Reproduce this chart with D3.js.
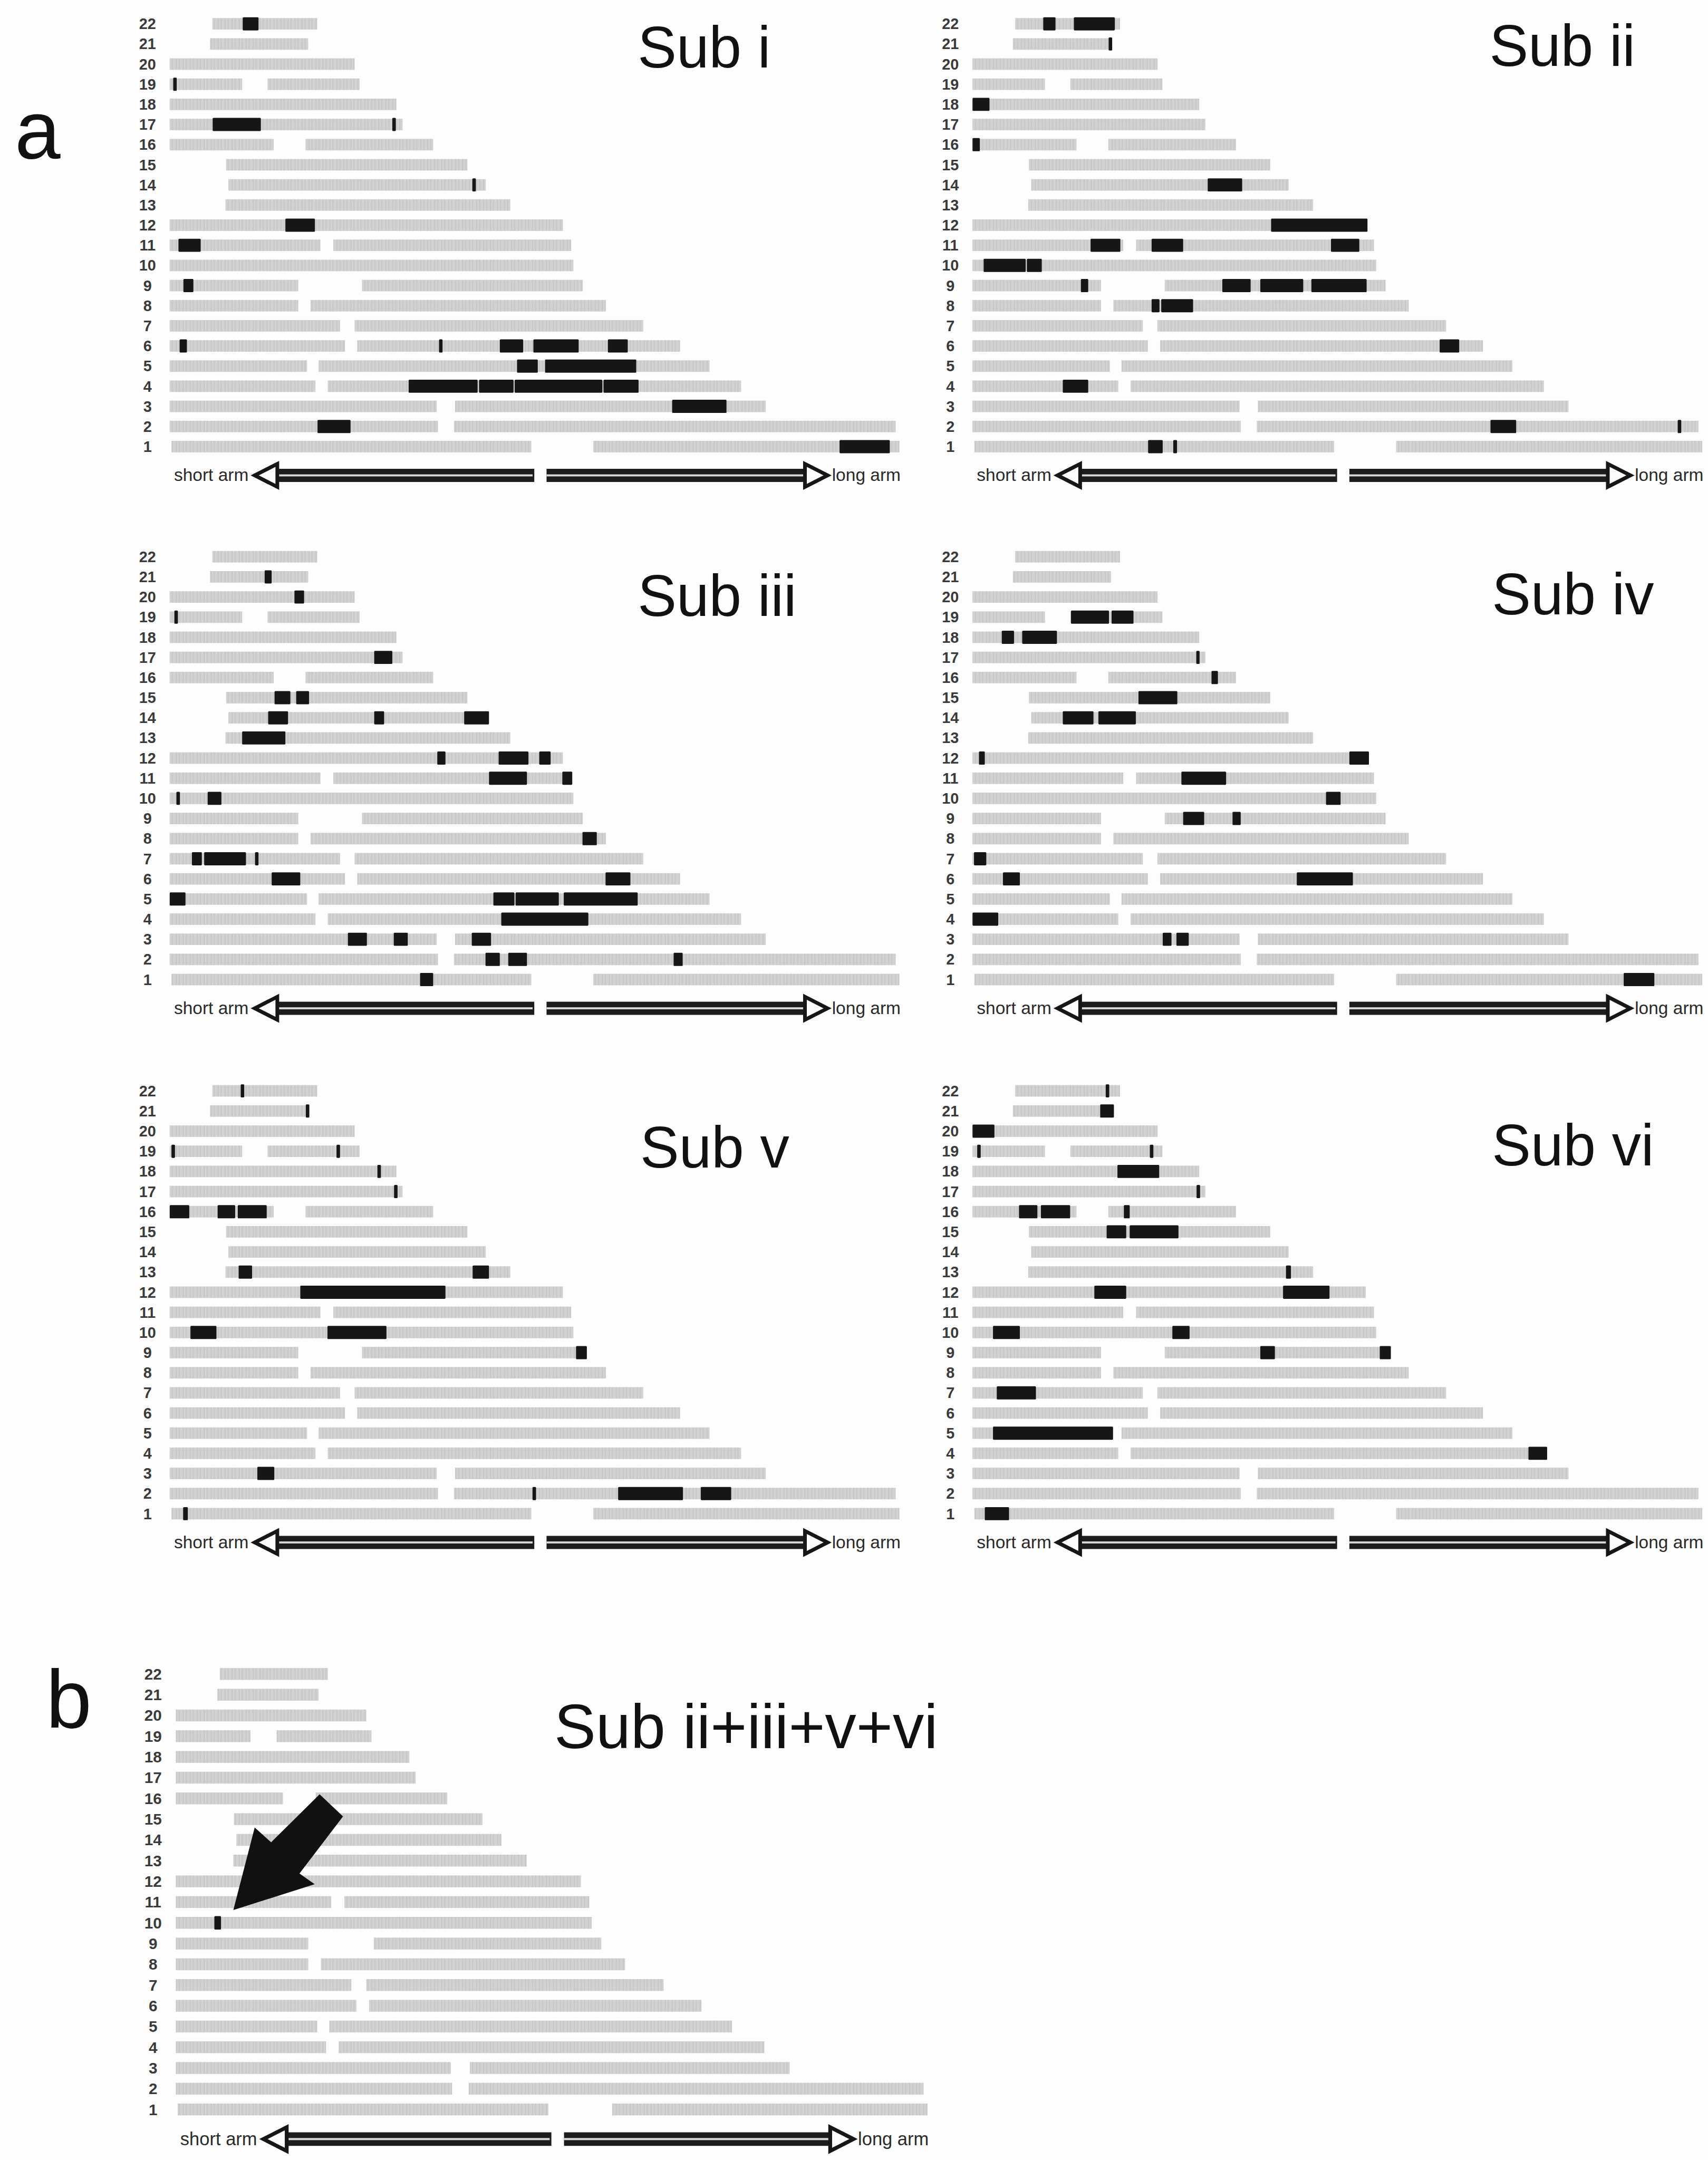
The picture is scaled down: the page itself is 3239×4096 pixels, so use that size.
<!DOCTYPE html>
<html>
<head>
<meta charset="utf-8">
<script src="https://cdn.jsdelivr.net/npm/d3@7"></script>
<style>
  html, body { margin: 0; padding: 0; background: #fff; }
  svg { display: block; }
  text { font-family: "Liberation Sans", Arial, Helvetica, sans-serif; }
</style>
</head>
<body>
<div id="chart"></div>
<script>
// chromosome names, 1 at bottom, 22 at top
const chromosomes = d3.range(1, 23).map(String);

// gray probe coverage per chromosome (Mb); gaps are centromeres / missing short arms
const coverage = {
  1: [[0.6, 123.8], [145, 249.8]],
  2: [[0, 91.8], [97.3, 248.5]],
  3: [[0, 91.4], [97.7, 204]],
  4: [[0, 49.9], [54.1, 195.6]],
  5: [[0, 47], [51, 184.8]],
  6: [[0, 60], [64.2, 174.7]],
  7: [[0, 58.3], [63.3, 162.1]],
  8: [[0, 44], [48.2, 149.3]],
  9: [[0, 44], [65.8, 141.4]],
  10: [[0, 138.2]],
  11: [[0, 51.6], [56, 137.4]],
  12: [[0, 134.6]],
  13: [[19.1, 116.6]],
  14: [[20.1, 108.2]],
  15: [[19.3, 101.9]],
  16: [[0, 35.6], [46.5, 90.2]],
  17: [[0, 79.7]],
  18: [[0, 77.6]],
  19: [[0, 24.8], [33.5, 65]],
  20: [[0, 63.3]],
  21: [[13.8, 47.4]],
  22: [[14.6, 50.5]]
};

// black segments: [chromosome, start Mb, end Mb]
const subI = [
  [22, 25.0, 30.4], [19, 1.2, 2.4], [17, 14.7, 31.2], [17, 76.2, 77.4], [14, 103.6, 104.8],
  [12, 39.6, 49.7], [11, 3.0, 10.6], [9, 4.7, 8.1],
  [6, 3.4, 5.9], [6, 92.2, 93.4], [6, 113, 121], [6, 124.5, 140], [6, 150, 156.8],
  [5, 118.9, 126], [5, 128.5, 159.7],
  [4, 81.8, 105.4], [4, 105.9, 117.7], [4, 118.1, 148.1], [4, 148.5, 160.5],
  [3, 172, 190.6], [2, 50.6, 61.9], [1, 229.3, 246.5]
];
const subII = [
  [22, 24.2, 28.4], [22, 34.7, 48.7], [21, 46.6, 47.8], [18, 0, 5.8], [16, 0, 2.5],
  [14, 80.5, 92.3], [12, 102.2, 135.2],
  [11, 40.4, 50.6], [11, 61.3, 72.1], [11, 122.7, 132.4],
  [10, 3.8, 18.2], [10, 18.6, 23.7],
  [9, 37.1, 39.6], [9, 85.5, 95.2], [9, 98.5, 113.2], [9, 116, 134.9],
  [8, 61.3, 64.0], [8, 64.6, 75.5], [6, 159.9, 166.6], [4, 30.9, 39.6],
  [2, 177.3, 186.1], [2, 241.4, 242.6], [1, 60.1, 65.1], [1, 68.7, 70.0]
];
const subIII = [
  [21, 32.5, 34.9], [20, 42.7, 46.0], [19, 1.6, 2.8], [17, 70.0, 76.2],
  [15, 35.9, 41.3], [15, 43.3, 47.7],
  [14, 33.7, 40.5], [14, 70.0, 73.4], [14, 100.8, 109.3],
  [13, 24.8, 39.6], [12, 91.6, 94.4], [12, 112.6, 122.8], [12, 126.5, 130.4],
  [11, 109.3, 122.3], [11, 134.4, 137.8], [10, 2.3, 3.5], [10, 13.0, 17.7], [8, 141.3, 146.2],
  [7, 7.6, 11.0], [7, 11.8, 26.1], [7, 29.2, 30.4], [6, 34.9, 44.7], [6, 149.2, 157.7],
  [5, 0, 5.4], [5, 110.8, 118], [5, 118.4, 133.2], [5, 134.9, 160.2], [4, 113.5, 143.3],
  [3, 61.0, 67.5], [3, 76.7, 81.5], [3, 103.4, 110.0],
  [2, 108.1, 113.0], [2, 115.9, 122.3], [2, 172.5, 175.6], [1, 85.7, 90.2]
];
const subIV = [
  [19, 33.7, 46.7], [19, 47.6, 55.1], [18, 10.0, 14.2], [18, 17.0, 28.9], [17, 76.6, 77.6],
  [16, 81.8, 84.0], [15, 56.8, 70.1], [14, 30.9, 41.4], [14, 43.1, 55.9],
  [12, 2.2, 4.2], [12, 129.0, 135.7], [11, 71.5, 86.8], [10, 121.0, 126.0],
  [9, 72.1, 79.3], [9, 89.0, 91.8], [7, 0.5, 4.7], [6, 10.4, 16.2], [6, 111, 130.2],
  [4, 0, 8.8], [3, 65.1, 68.1], [3, 69.8, 74.0], [1, 222.9, 233.4]
];
const subV = [
  [22, 24.3, 25.5], [21, 46.6, 47.8], [19, 0.6, 1.8], [19, 57.1, 58.3], [18, 71.1, 72.3],
  [17, 76.8, 78.0], [16, 0, 6.7], [16, 16.4, 22.4], [16, 23.3, 33.2],
  [13, 23.6, 28.2], [13, 103.7, 109.3], [12, 44.7, 94.4], [10, 7.1, 16.0], [10, 54.0, 74.2],
  [9, 139.1, 142.8], [3, 30.0, 35.8],
  [2, 124.2, 125.4], [2, 153.5, 175.7], [2, 181.8, 192.2], [1, 4.6, 6.2]
];
const subVI = [
  [22, 45.6, 46.8], [21, 43.7, 48.4], [20, 0, 7.5], [19, 1.6, 2.8], [19, 60.7, 61.9],
  [18, 49.6, 63.9], [17, 76.7, 77.9], [16, 15.9, 22.2], [16, 23.4, 33.4], [16, 51.8, 53.8],
  [15, 45.9, 52.6], [15, 53.8, 70.5], [13, 107.3, 109.0], [12, 41.7, 52.6], [12, 106.3, 122.2],
  [10, 7.0, 16.2], [10, 68.4, 74.3], [9, 98.5, 103.5], [9, 139.4, 143.2],
  [7, 8.3, 21.7], [5, 7.0, 48.1], [4, 190.3, 196.7], [1, 4.2, 12.5]
];
const subCombined = [[10, 12.8, 15.0]];

const W = 4157, H = 5257;

const svg = d3.select("#chart")
  .append("svg")
  .attr("width", 3239)
  .attr("height", 4096)
  .attr("viewBox", `0 0 ${W} ${H}`);

// faint vertical striping, like the dense probe tracks
const pat = svg.append("defs").append("pattern")
  .attr("id", "probes")
  .attr("patternUnits", "userSpaceOnUse")
  .attr("width", 17).attr("height", 40);
pat.append("rect").attr("width", 17).attr("height", 40).attr("fill", "#d2d2d2");
pat.append("rect").attr("x", 3).attr("width", 2).attr("height", 40).attr("fill", "#c3c3c3");
pat.append("rect").attr("x", 10).attr("width", 3).attr("height", 40).attr("fill", "#c8c8c8");

svg.append("rect").attr("width", W).attr("height", H).attr("fill", "#fdfdfd");

// one karyogram panel
const drawPanel = (p) => {
  const s = p.scale;
  const x = d3.scaleLinear().domain([0, 100]).range([p.x0, p.x0 + 711 * s]);
  const y = d3.scalePoint()
    .domain(chromosomes.slice().reverse())
    .range([p.y1 - 21 * 49 * s, p.y1]);

  const g = svg.append("g");

  g.selectAll(".lab")
    .data(chromosomes)
    .join("text")
    .attr("x", p.x0 - 54 * s)
    .attr("y", (d) => y(d) + 13 * s)
    .attr("text-anchor", "middle")
    .attr("font-size", 37 * s)
    .attr("font-weight", "bold")
    .attr("fill", "#3a3a3a")
    .text((d) => d);

  const arms = chromosomes.flatMap((c) => coverage[c].map((a) => ({ c, a })));
  g.selectAll(".arm")
    .data(arms)
    .join("rect")
    .attr("x", (d) => x(d.a[0]))
    .attr("width", (d) => x(d.a[1]) - x(d.a[0]))
    .attr("y", (d) => y(d.c) - 14 * s)
    .attr("height", 28 * s)
    .attr("fill", "url(#probes)");

  g.selectAll(".hit")
    .data(p.marks)
    .join("rect")
    .attr("x", (d) => x(d[1]))
    .attr("width", (d) => Math.max(x(d[2]) - x(d[1]), 8))
    .attr("y", (d) => y(String(d[0])) - 16 * s)
    .attr("height", 32 * s)
    .attr("rx", 2)
    .attr("fill", "#161616");

  // short arm / long arm arrows: dark shaft with a thin light core, open head
  const cy = p.y1 + 70 * s;
  const sh = 16 * s, hh = 28 * s, hl = 55 * s;
  const lt = x(29.1), le = x(124.8), rs = x(129), rt = x(225.2);
  const shafts = [[lt + hl, le], [rs, rt - hl]];
  g.selectAll(".shaft")
    .data(shafts)
    .join("rect")
    .attr("x", (d) => d[0])
    .attr("width", (d) => d[1] - d[0])
    .attr("y", cy - sh)
    .attr("height", 2 * sh)
    .attr("fill", "#1c1c1c");
  g.selectAll(".core")
    .data(shafts)
    .join("rect")
    .attr("x", (d) => d[0])
    .attr("width", (d) => d[1] - d[0] - 4 * s)
    .attr("y", cy - 2.5 * s)
    .attr("height", 5 * s)
    .attr("fill", "#d8d8d8");
  const heads = [
    [[lt, cy], [lt + hl, cy - hh], [lt + hl, cy + hh]],
    [[rt, cy], [rt - hl, cy - hh], [rt - hl, cy + hh]]
  ];
  g.selectAll(".head")
    .data(heads)
    .join("path")
    .attr("d", (d) => d3.line()(d) + "Z")
    .attr("fill", "#fbfbfb")
    .attr("stroke", "#161616")
    .attr("stroke-width", 9 * s)
    .attr("stroke-linejoin", "miter");

  g.append("text")
    .attr("x", x(27))
    .attr("y", cy + 14 * s)
    .attr("text-anchor", "end")
    .attr("font-size", 43 * s)
    .attr("fill", "#2a2a2a")
    .text("short arm");
  g.append("text")
    .attr("x", x(226.7))
    .attr("y", cy + 14 * s)
    .attr("font-size", 43 * s)
    .attr("fill", "#2a2a2a")
    .text("long arm");

  g.append("text")
    .attr("x", p.tx)
    .attr("y", p.ty)
    .attr("font-size", p.tsize)
    .attr("fill", "#111")
    .text(p.title);

  return { x, y };
};

const panels = [
  { title: "Sub i", marks: subI, x0: 413, y1: 1087, scale: 1, tx: 1552, ty: 164, tsize: 142 },
  { title: "Sub ii", marks: subII, x0: 2367, y1: 1087, scale: 1, tx: 3625, ty: 160, tsize: 142 },
  { title: "Sub iii", marks: subIII, x0: 413, y1: 2384, scale: 1, tx: 1552, ty: 1499, tsize: 142 },
  { title: "Sub iv", marks: subIV, x0: 2367, y1: 2384, scale: 1, tx: 3631, ty: 1495, tsize: 142 },
  { title: "Sub v", marks: subV, x0: 413, y1: 3684, scale: 1, tx: 1558, ty: 2841, tsize: 142 },
  { title: "Sub vi", marks: subVI, x0: 2367, y1: 3684, scale: 1, tx: 3631, ty: 2837, tsize: 142 },
  { title: "Sub ii+iii+v+vi", marks: subCombined, x0: 428, y1: 5134, scale: 1.03, tx: 1349, ty: 4255, tsize: 152 }
];

const scales = panels.map(drawPanel);

// pointer arrow in panel b, anchored on the chr10 segment
const b = scales[6];
const ax = b.x(15.0), ay = b.y("10");
const pointer = [[30, -31], [82, -232], [122, -196], [240, -313], [297, -259],
  [191, -120], [228, -94]].map((d) => [ax + d[0], ay + d[1]]);
svg.append("path")
  .attr("d", d3.line()(pointer) + "Z")
  .attr("fill", "#111");

// panel letters
svg.append("text").attr("x", 36).attr("y", 385).attr("font-size", 200).attr("fill", "#111").text("a");
svg.append("text").attr("x", 112).attr("y", 4205).attr("font-size", 200).attr("fill", "#111").text("b");
</script>
</body>
</html>
